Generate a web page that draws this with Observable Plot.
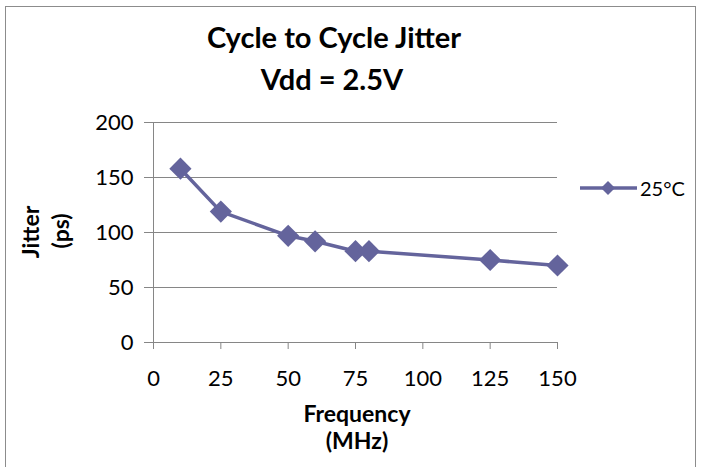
<!DOCTYPE html>
<html><head><meta charset="utf-8">
<script src="https://cdn.jsdelivr.net/npm/d3@7"></script>
<script src="https://cdn.jsdelivr.net/npm/@observablehq/plot@0.6"></script>
<style>
body{margin:0;background:#fff;}
#wrap{position:relative;width:702px;height:467px;overflow:hidden;background:#fff;font-family:Lato,"Open Sans",sans-serif;}
#border{position:absolute;left:5px;top:6px;width:691px;height:480px;border:1px solid #8c8c8c;box-sizing:border-box;}
#chart{position:absolute;left:0;top:0;}
#overlay{position:absolute;left:0;top:0;pointer-events:none;}
</style></head><body>
<div id="wrap"><div id="border"></div><div id="chart"></div>
<svg id="overlay" width="702" height="467" font-family="Lato, 'Open Sans', sans-serif">
  <text x="334" y="48" text-anchor="middle" font-weight="bold" font-size="29">Cycle to Cycle Jitter</text>
  <text x="332" y="90" text-anchor="middle" font-weight="bold" font-size="29">Vdd = 2.5V</text>
  <text x="357" y="422" text-anchor="middle" font-weight="bold" font-size="23">Frequency</text>
  <text x="357" y="449" text-anchor="middle" font-weight="bold" font-size="23">(MHz)</text>
  <text transform="translate(39,232) rotate(-90)" text-anchor="middle" font-weight="bold" font-size="23">Jitter</text>
  <text transform="translate(69,231) rotate(-90)" text-anchor="middle" font-weight="bold" font-size="23">(ps)</text>
  <line x1="580" x2="637" y1="188" y2="188" stroke="#64649c" stroke-width="3.5"/>
  <path d="M608,181 L615,188 L608,195 L601,188 Z" fill="#64649c"/>
  <text x="640" y="196" font-size="20">25°C</text>
</svg>
</div>
<script>
const freq   = [10, 25, 50, 60, 75, 80, 125, 150];
const jitter = [158, 119, 97, 92, 83, 83, 75, 70];
const xTicks = [0, 25, 50, 75, 100, 125, 150];
const yTicks = [0, 50, 100, 150, 200];
const color = "#64649c";
const gridColor = "#868686";

const data = freq.map((f, i) => ({f, j: jitter[i]}));

const plot = Plot.plot({
  width: 702, height: 467,
  marginLeft: 153, marginRight: 145, marginTop: 122, marginBottom: 125,
  style: {fontFamily: "Lato, 'Open Sans', sans-serif", fontSize: "22px", color: "#000", background: "transparent"},
  x: {domain: [0, 150], ticks: xTicks, label: null},
  y: {domain: [0, 200], ticks: yTicks, label: null},
  marks: [
    Plot.gridY(yTicks.filter(d => d > 0), {stroke: gridColor, strokeOpacity: 1, strokeWidth: 1}),
    Plot.axisX({ticks: xTicks, tickSize: 7, tickPadding: 21, stroke: gridColor, label: null, fill: "#000"}),
    Plot.axisY({ticks: yTicks, tickSize: 9, tickPadding: 11, stroke: gridColor, label: null, fill: "#000"}),
    Plot.ruleY([0], {stroke: gridColor}),
    Plot.ruleX([0], {stroke: gridColor}),
    Plot.line(data, {x: "f", y: "j", stroke: color, strokeWidth: 3.5, strokeLinejoin: "round"}),
    Plot.dot(data, {x: "f", y: "j", symbol: "diamond2", r: 10, fill: color, stroke: "none"})
  ]
});
document.getElementById("chart").appendChild(plot);
</script>
</body></html>
